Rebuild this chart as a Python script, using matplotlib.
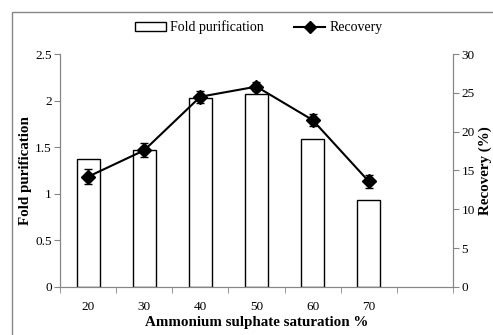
import numpy as np
import matplotlib.pyplot as plt
from matplotlib.patches import Rectangle
from matplotlib.lines import Line2D

plt.rcParams['font.family'] = ['Liberation Serif', 'DejaVu Serif']

# datos
saturacion = ['20', '30', '40', '50', '60', '70']
fold = [1.37, 1.47, 2.03, 2.07, 1.59, 0.93]
recovery = [14.2, 17.6, 24.5, 25.8, 21.5, 13.6]
recovery_err = [1.0, 0.9, 0.8, 0.6, 0.8, 0.8]

gris = '#868686'

fig = plt.figure(figsize=(4.93, 3.35), dpi=100)
fig.patch.set_facecolor('white')
ax1 = fig.add_axes([0.1217, 0.1433, 0.7971, 0.6955])
ax2 = ax1.twinx()

x = np.arange(len(saturacion))
barras = ax1.bar(x, fold, width=0.41, color='white', edgecolor='black', linewidth=1.0,
                 label='Fold purification', zorder=2)
ax2.errorbar(x, recovery, yerr=recovery_err, color='black', marker='D', markersize=7,
             linewidth=1.5, capsize=3, elinewidth=1.0, ecolor='black', zorder=3)

ax1.set_xlim(-0.5, 6.5)
ax1.set_ylim(0, 2.5)
ax2.set_ylim(0, 30)
ax1.set_yticks(np.arange(0, 2.51, 0.5))
ax1.set_yticklabels(['0', '0.5', '1', '1.5', '2', '2.5'])
ax2.set_yticks(range(0, 31, 5))

ax1.set_xticks(x)
ax1.set_xticklabels(saturacion)
ax1.set_xticks(np.arange(-0.5, 6.6, 1), minor=True)
ax1.tick_params(axis='x', which='major', length=0, pad=10, labelsize=9.5)
ax1.tick_params(axis='x', which='minor', length=4, color=gris, direction='out')
ax1.tick_params(axis='y', length=4, color=gris, labelsize=9.5, pad=2)
ax2.tick_params(axis='y', length=4, color=gris, labelsize=9.5, pad=2)

for ax in (ax1, ax2):
    for s in ax.spines.values():
        s.set_color(gris)
        s.set_linewidth(0.8)
    ax.spines['top'].set_visible(False)
ax1.set_facecolor('none')

ax1.set_xlabel('Ammonium sulphate saturation %', fontsize=10.8, fontweight='bold', labelpad=2)
ax1.set_ylabel('Fold purification', fontsize=10.8, fontweight='bold', labelpad=2)
ax2.set_ylabel('Recovery (%)', fontsize=10.8, fontweight='bold', labelpad=3)

linea_rec = Line2D([], [], color='black', marker='D', markersize=6, linewidth=1.5)
fig.legend([barras, linea_rec], ['Fold purification', 'Recovery'], loc='center',
           bbox_to_anchor=(0.525, 0.918), ncol=2, frameon=False, fontsize=10,
           handlelength=2.2, handleheight=0.6, columnspacing=2.2, handletextpad=0.3)

# marco exterior gris
fig.patches.append(Rectangle((12 / 493, -0.1), 1.2, 1.0 - 12 / 335 + 0.1,
                             transform=fig.transFigure, fill=False,
                             edgecolor=gris, linewidth=1.0))

fig.savefig('out.png', dpi=100)
